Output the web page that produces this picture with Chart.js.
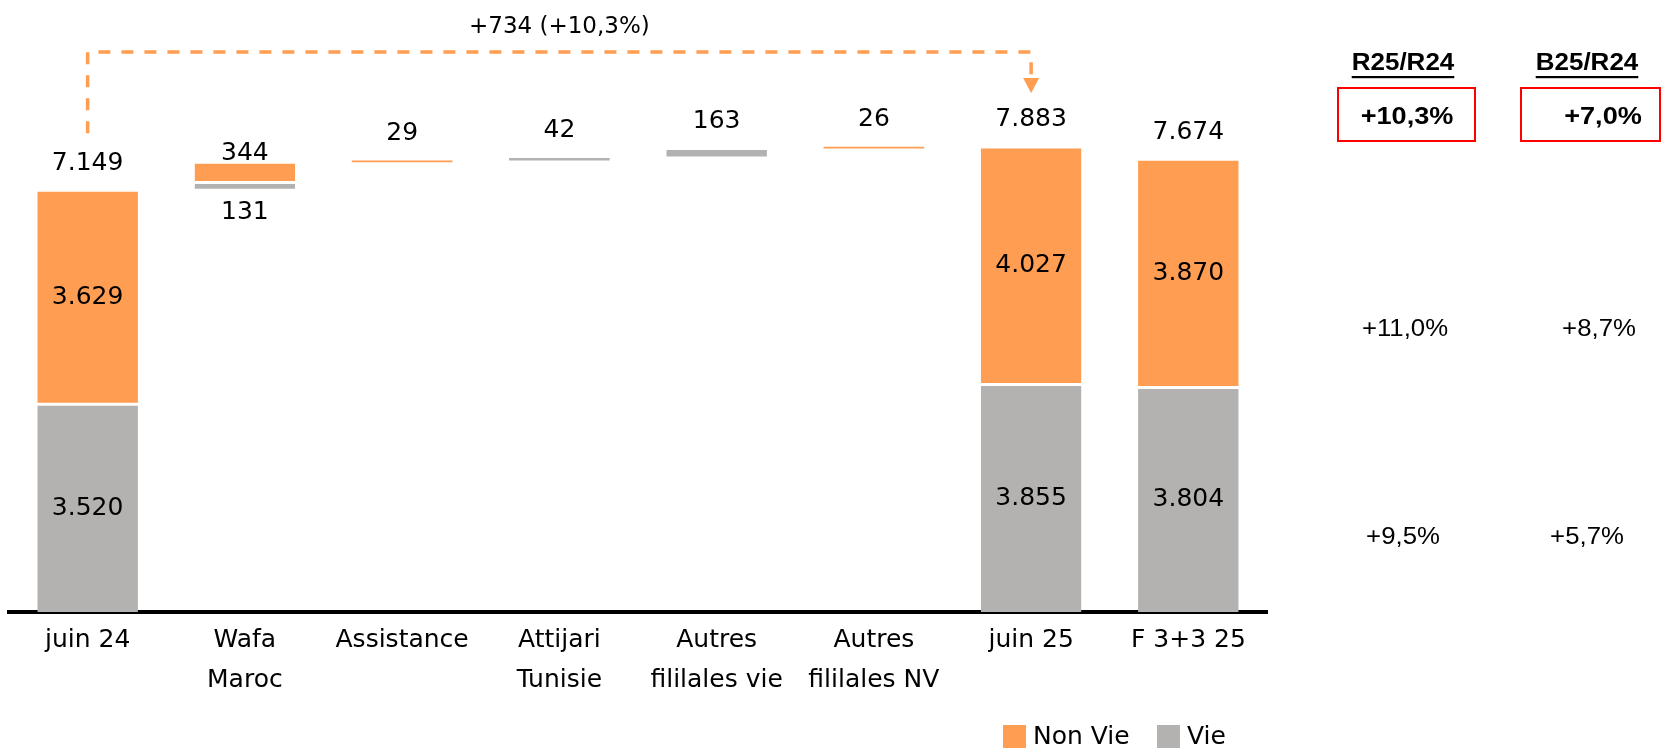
<!DOCTYPE html>
<html>
<head>
<meta charset="utf-8">
<script src="https://cdn.jsdelivr.net/npm/chart.js@4.4.1/dist/chart.umd.min.js"></script>
<style>
  html, body { margin: 0; padding: 0; background: #fff; }
  #chart { display: block; }
</style>
</head>
<body>
<canvas id="chart" width="1674" height="749"></canvas>
<script>
// 分类与数据
const categories = [['juin 24'], ['Wafa', 'Maroc'], ['Assistance'], ['Attijari', 'Tunisie'], ['Autres', 'fililales vie'], ['Autres', 'fililales NV'], ['juin 25'], ['F 3+3 25']]
const barKinds = ['total', 'delta', 'delta', 'delta', 'delta', 'delta', 'total', 'total']
const vieValues = [3520, 131, 0, 42, 163, 0, 3855, 3804]
const nonVieValues = [3629, 344, 29, 0, 0, 26, 4027, 3870]
const totalValues = [7149, null, null, null, null, null, 7883, 7674]
const variationLabel = '+734 (+10,3%)'

// 右侧对比表
const compHeaders = ['R25/R24', 'B25/R24']
const compTotal = ['+10,3%', '+7,0%']
const compNonVie = ['+11,0%', '+8,7%']
const compVie = ['+9,5%', '+5,7%']

const ORANGE = '#FF9D52'
const GRAY = '#B3B2B1'
const LABEL_FONT = '25px "DejaVu Sans"'

function fmt(n) {
  return String(n).replace(/\B(?=(\d{3})+(?!\d))/g, '.')
}

/**
 * 瀑布图区间：总额柱从 0 开始，增量柱接在累计值上
 */
function buildRanges() {
  const vie = []
  const nonVie = []
  let running = 0
  categories.forEach((c, i) => {
    const start = barKinds[i] === 'total' ? 0 : running
    const mid = start + vieValues[i]
    vie.push(vieValues[i] ? [start, mid] : null)
    nonVie.push(nonVieValues[i] ? [mid, mid + nonVieValues[i]] : null)
    running = barKinds[i] === 'total' ? (totalValues[i] ?? mid + nonVieValues[i]) : mid + nonVieValues[i]
  })
  return { vie, nonVie }
}

const ranges = buildRanges()

// 白色分隔边框，细柱不加，贴着坐标轴的一边不加
const barBorder = (ctx) => {
  const r = ctx.raw
  if (!r || Math.abs(r[1] - r[0]) < 100) return 0
  return { top: 1.5, bottom: r[0] === 0 ? 0 : 1.5, left: 0, right: 0 }
}

// 横向拉伸的文字（右侧表格）
function stretchText(ctx, text, x, y, sx) {
  ctx.save()
  ctx.translate(x, y)
  ctx.scale(sx, 1)
  ctx.fillText(text, 0, 0)
  const w = ctx.measureText(text).width * sx
  ctx.restore()
  return w
}

// 数值标签、连接线、对比表和图例
const overlayPlugin = {
  id: 'overlay',
  afterDatasetsDraw(chart) {
    const { ctx, scales } = chart
    const x = scales.x
    const y = scales.y
    ctx.save()
    ctx.fillStyle = '#000'
    ctx.font = LABEL_FONT
    ctx.textAlign = 'center'
    ctx.textBaseline = 'middle'

    categories.forEach((c, i) => {
      const cx = x.getPixelForValue(i)
      const v = ranges.vie[i]
      const nv = ranges.nonVie[i]
      if (barKinds[i] === 'total') {
        if (v) ctx.fillText(fmt(vieValues[i]), cx, (y.getPixelForValue(v[0]) + y.getPixelForValue(v[1])) / 2)
        if (nv) ctx.fillText(fmt(nonVieValues[i]), cx, (y.getPixelForValue(nv[0]) + y.getPixelForValue(nv[1])) / 2)
        const top = nv ? nv[1] : v[1]
        ctx.fillText(fmt(totalValues[i]), cx, y.getPixelForValue(top) - 27)
      } else if (v && nv) {
        ctx.fillText(fmt(nonVieValues[i]), cx, y.getPixelForValue(nv[1]) - 9)
        ctx.fillText(fmt(vieValues[i]), cx, y.getPixelForValue(v[0]) + 22)
      } else {
        const r = nv || v
        const val = nv ? nonVieValues[i] : vieValues[i]
        ctx.fillText(fmt(val), cx, y.getPixelForValue(r[1]) - 27)
      }
    })

    // 虚线箭头 juin 24 -> juin 25
    const from = 0
    const to = 6
    const x0 = x.getPixelForValue(from)
    const x1 = x.getPixelForValue(to)
    const lineY = 52
    const leftEnd = y.getPixelForValue(totalValues[from]) - 57
    const tipY = y.getPixelForValue(totalValues[to]) - 54
    ctx.strokeStyle = ORANGE
    ctx.lineWidth = 3.5
    ctx.setLineDash([12, 11])
    ctx.beginPath()
    ctx.moveTo(x0, leftEnd)
    ctx.lineTo(x0, lineY)
    ctx.lineTo(x1, lineY)
    ctx.lineTo(x1, tipY - 15)
    ctx.stroke()
    ctx.setLineDash([])
    ctx.fillStyle = ORANGE
    ctx.beginPath()
    ctx.moveTo(x1 - 8, tipY - 15)
    ctx.lineTo(x1 + 8, tipY - 15)
    ctx.lineTo(x1, tipY)
    ctx.closePath()
    ctx.fill()

    ctx.fillStyle = '#000'
    ctx.font = '23px "DejaVu Sans"'
    ctx.fillText(variationLabel, (x0 + x1) / 2, 27)

    // 右侧对比表
    const headX = [1403, 1587]
    ctx.font = 'bold 23px "Liberation Sans", Arial, sans-serif'
    compHeaders.forEach((h, k) => {
      const w = stretchText(ctx, h, headX[k], 64, 1.13)
      ctx.fillRect(headX[k] - w / 2, 76, w, 2.2)
    })
    ctx.strokeStyle = '#FF0000'
    ctx.lineWidth = 2
    ctx.strokeRect(1338, 88, 137, 53)
    ctx.strokeRect(1521, 88, 139, 53)
    ctx.font = 'bold 24px "Liberation Sans", Arial, sans-serif'
    const totalX = [1407, 1603]
    compTotal.forEach((t, k) => stretchText(ctx, t, totalX[k], 117, 1.13))
    ctx.font = '23px "Liberation Sans", Arial, sans-serif'
    const nonVieX = [1405, 1599]
    const vieX = [1403, 1587]
    compNonVie.forEach((t, k) => stretchText(ctx, t, nonVieX[k], 330, 1.12))
    compVie.forEach((t, k) => stretchText(ctx, t, vieX[k], 538, 1.12))

    // 图例
    const legendItems = [['Non Vie', ORANGE, 1003], ['Vie', GRAY, 1157]]
    ctx.font = LABEL_FONT
    ctx.textAlign = 'left'
    legendItems.forEach(([text, color, lx]) => {
      ctx.fillStyle = color
      ctx.fillRect(lx, 725, 23, 23)
      ctx.fillStyle = '#000'
      ctx.fillText(text, lx + 30, 737)
    })
    ctx.restore()
  }
}

const canvas = document.getElementById('chart')
new Chart(canvas.getContext('2d'), {
  type: 'bar',
  data: {
    labels: categories,
    datasets: [
      {
        label: 'Non Vie',
        data: ranges.nonVie,
        backgroundColor: ORANGE,
        borderColor: '#fff',
        borderWidth: barBorder,
        borderSkipped: false,
        grouped: false
      },
      {
        label: 'Vie',
        data: ranges.vie,
        backgroundColor: GRAY,
        borderColor: '#fff',
        borderWidth: barBorder,
        borderSkipped: false,
        grouped: false
      }
    ]
  },
  options: {
    responsive: false,
    animation: false,
    layout: { padding: { left: 9, right: 407, top: 81, bottom: 41 } },
    datasets: { bar: { categoryPercentage: 1, barPercentage: 0.64 } },
    plugins: {
      legend: { display: false },
      tooltip: { enabled: false }
    },
    scales: {
      x: {
        grid: { display: false, drawTicks: false },
        border: { display: true, color: '#000', width: 4 },
        ticks: {
          color: '#000',
          font: { family: 'DejaVu Sans', size: 25, lineHeight: 1.6 },
          padding: 8,
          maxRotation: 0,
          autoSkip: false
        }
      },
      y: { display: false, min: 0, max: 9000 }
    }
  },
  plugins: [overlayPlugin]
})
</script>
</body>
</html>
